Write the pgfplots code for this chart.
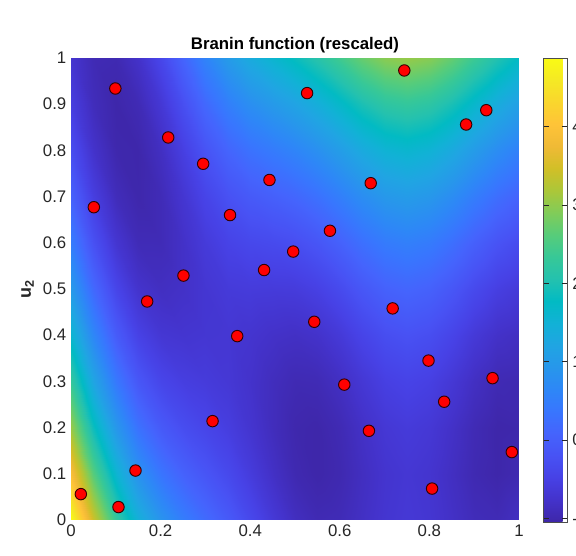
\documentclass[border=0pt]{standalone}
\usepackage{fontspec}
\setmainfont{Liberation Sans}
\usepackage{pgfplots}
\pgfplotsset{compat=1.18}
\pgfplotsset{
  colormap={parula}{
    rgb=(0.2422,0.1504,0.6603) rgb=(0.2647,0.1978,0.7952) rgb=(0.2783,0.2559,0.8991)
    rgb=(0.2810,0.3228,0.9579) rgb=(0.2699,0.3892,0.9906) rgb=(0.2206,0.4603,0.9973)
    rgb=(0.1786,0.5289,0.9682) rgb=(0.1540,0.5902,0.9218) rgb=(0.1248,0.6459,0.8883)
    rgb=(0.0689,0.6948,0.8394) rgb=(0.0067,0.7312,0.7660) rgb=(0.1408,0.7584,0.6842)
    rgb=(0.2161,0.7843,0.5923) rgb=(0.3406,0.8008,0.4789) rgb=(0.5044,0.7993,0.3480)
    rgb=(0.6720,0.7793,0.2227) rgb=(0.8203,0.7498,0.1535) rgb=(0.9393,0.7288,0.2100)
    rgb=(0.9970,0.7659,0.2199) rgb=(0.9786,0.8386,0.1766) rgb=(0.9597,0.9135,0.1423)
    rgb=(0.9769,0.9839,0.0805)}
}
\definecolor{txt}{rgb}{0.15,0.15,0.15}
\begin{document}
\begin{tikzpicture}
\begin{axis}[
  view={0}{90},
  scale only axis,
  width=336pt, height=346.5pt,
  xmin=0, xmax=1, ymin=0, ymax=1,
  xtick={0,0.2,...,1.01}, ytick={0,0.1,...,1.01},
  ztick=\empty,
  axis line style={draw=none},
  major tick length=0pt,
  tick label style={font=\fontsize{12.6}{14}\selectfont, text=txt},
  /pgf/number format/assume math mode=true,
  /pgf/number format/fixed,
  title={\textbf{Branin function (rescaled)}},
  title style={font=\fontsize{12.6}{14}\selectfont, yshift=-6pt},
  ylabel={\textbf{u\textsubscript{2}}},
  ylabel style={font=\fontsize{13.5}{15}\selectfont, text=txt, xshift=0pt},
  colormap name=parula,
  point meta min=-1.0474, point meta max=4.8762,
  colorbar,
  colorbar style={
    at={(parent axis.north east)}, anchor=north west, xshift=10pt,
    width=18pt, height=348pt, scale only axis,
    ytick={-1,0,1,2,3,4},
    yticklabel pos=right,
    major tick length=4pt,
    tick align=inside,
    tick style={draw=txt},
    axis line style={draw=black!70},
    tick label style={font=\fontsize{12.6}{14}\selectfont, text=txt},
    /pgf/number format/assume math mode=true,
  },
]
\addplot3[surf, shader=interp, mesh/cols=21] table[row sep=\\] {
x y z\\
0 0 4.876\\ 0.05 0 3.443\\ 0.1 0 2.295\\ 0.15 0 1.448\\ 0.2 0 0.872\\ 0.25 0 0.487\\ 0.3 0 0.197\\ 0.35 0 -0.078\\ 0.4 0 -0.366\\ 0.45 0 -0.645\\ 0.5 0 -0.857\\ 0.55 0 -0.954\\ 0.6 0 -0.928\\ 0.65 0 -0.820\\ 0.7 0 -0.706\\ 0.75 0 -0.655\\ 0.8 0 -0.696\\ 0.85 0 -0.804\\ 0.9 0 -0.911\\ 0.95 0 -0.940\\ 1 0 -0.844\\
0 0.1 3.927\\ 0.05 0.1 2.614\\ 0.1 0.1 1.578\\ 0.15 0.1 0.836\\ 0.2 0.1 0.355\\ 0.25 0.1 0.058\\ 0.3 0.1 -0.154\\ 0.35 0.1 -0.358\\ 0.4 0.1 -0.585\\ 0.45 0.1 -0.810\\ 0.5 0.1 -0.977\\ 0.55 0.1 -1.037\\ 0.6 0.1 -0.983\\ 0.65 0.1 -0.855\\ 0.7 0.1 -0.729\\ 0.75 0.1 -0.675\\ 0.8 0.1 -0.721\\ 0.85 0.1 -0.843\\ 0.9 0.1 -0.972\\ 0.95 0.1 -1.031\\ 1 0.1 -0.974\\
0 0.2 3.064\\ 0.05 0.2 1.872\\ 0.1 0.2 0.949\\ 0.15 0.2 0.310\\ 0.2 0.2 -0.075\\ 0.25 0.2 -0.286\\ 0.3 0.2 -0.418\\ 0.35 0.2 -0.552\\ 0.4 0.2 -0.717\\ 0.45 0.2 -0.888\\ 0.5 0.2 -1.010\\ 0.55 0.2 -1.034\\ 0.6 0.2 -0.951\\ 0.65 0.2 -0.804\\ 0.7 0.2 -0.666\\ 0.75 0.2 -0.608\\ 0.8 0.2 -0.660\\ 0.85 0.2 -0.796\\ 0.9 0.2 -0.946\\ 0.95 0.2 -1.036\\ 1 0.2 -1.018\\
0 0.3 2.288\\ 0.05 0.3 1.217\\ 0.1 0.3 0.406\\ 0.15 0.3 -0.129\\ 0.2 0.3 -0.419\\ 0.25 0.3 -0.542\\ 0.3 0.3 -0.596\\ 0.35 0.3 -0.660\\ 0.4 0.3 -0.763\\ 0.45 0.3 -0.880\\ 0.5 0.3 -0.957\\ 0.55 0.3 -0.944\\ 0.6 0.3 -0.833\\ 0.65 0.3 -0.665\\ 0.7 0.3 -0.516\\ 0.75 0.3 -0.455\\ 0.8 0.3 -0.512\\ 0.85 0.3 -0.661\\ 0.9 0.3 -0.834\\ 0.95 0.3 -0.954\\ 1 0.3 -0.975\\
0 0.4 1.599\\ 0.05 0.4 0.648\\ 0.1 0.4 -0.051\\ 0.15 0.4 -0.482\\ 0.2 0.4 -0.676\\ 0.25 0.4 -0.712\\ 0.3 0.4 -0.687\\ 0.35 0.4 -0.681\\ 0.4 0.4 -0.722\\ 0.45 0.4 -0.786\\ 0.5 0.4 -0.817\\ 0.55 0.4 -0.767\\ 0.6 0.4 -0.628\\ 0.65 0.4 -0.440\\ 0.7 0.4 -0.280\\ 0.75 0.4 -0.216\\ 0.8 0.4 -0.278\\ 0.85 0.4 -0.440\\ 0.9 0.4 -0.635\\ 0.95 0.4 -0.786\\ 1 0.4 -0.845\\
0 0.5 0.996\\ 0.05 0.5 0.166\\ 0.1 0.5 -0.421\\ 0.15 0.5 -0.748\\ 0.2 0.5 -0.846\\ 0.25 0.5 -0.795\\ 0.3 0.5 -0.692\\ 0.35 0.5 -0.615\\ 0.4 0.5 -0.594\\ 0.45 0.5 -0.604\\ 0.5 0.5 -0.591\\ 0.55 0.5 -0.504\\ 0.6 0.5 -0.336\\ 0.65 0.5 -0.129\\ 0.7 0.5 0.044\\ 0.75 0.5 0.111\\ 0.8 0.5 0.043\\ 0.85 0.5 -0.133\\ 0.9 0.5 -0.350\\ 0.95 0.5 -0.530\\ 1 0.5 -0.628\\
0 0.6 0.480\\ 0.05 0.6 -0.229\\ 0.1 0.6 -0.704\\ 0.15 0.6 -0.927\\ 0.2 0.6 -0.930\\ 0.25 0.6 -0.792\\ 0.3 0.6 -0.610\\ 0.35 0.6 -0.462\\ 0.4 0.6 -0.379\\ 0.45 0.6 -0.336\\ 0.5 0.6 -0.278\\ 0.55 0.6 -0.154\\ 0.6 0.6 0.042\\ 0.65 0.6 0.270\\ 0.7 0.6 0.453\\ 0.75 0.6 0.524\\ 0.8 0.6 0.451\\ 0.85 0.6 0.261\\ 0.9 0.6 0.023\\ 0.95 0.6 -0.189\\ 1 0.6 -0.325\\
0 0.7 0.051\\ 0.05 0.7 -0.538\\ 0.1 0.7 -0.900\\ 0.15 0.7 -1.019\\ 0.2 0.7 -0.927\\ 0.25 0.7 -0.702\\ 0.3 0.7 -0.441\\ 0.35 0.7 -0.223\\ 0.4 0.7 -0.078\\ 0.45 0.7 0.018\\ 0.5 0.7 0.122\\ 0.55 0.7 0.282\\ 0.6 0.7 0.507\\ 0.65 0.7 0.754\\ 0.7 0.7 0.950\\ 0.75 0.7 1.023\\ 0.8 0.7 0.946\\ 0.85 0.7 0.742\\ 0.9 0.7 0.481\\ 0.95 0.7 0.240\\ 1 0.7 0.064\\
0 0.8 -0.292\\ 0.05 0.8 -0.760\\ 0.1 0.8 -1.010\\ 0.15 0.8 -1.025\\ 0.2 0.8 -0.838\\ 0.25 0.8 -0.525\\ 0.3 0.8 -0.186\\ 0.35 0.8 0.103\\ 0.4 0.8 0.309\\ 0.45 0.8 0.459\\ 0.5 0.8 0.609\\ 0.55 0.8 0.805\\ 0.6 0.8 1.059\\ 0.65 0.8 1.326\\ 0.7 0.8 1.533\\ 0.75 0.8 1.610\\ 0.8 0.8 1.527\\ 0.85 0.8 1.309\\ 0.9 0.8 1.027\\ 0.95 0.8 0.755\\ 1 0.8 0.541\\
0 0.9 -0.548\\ 0.05 0.9 -0.896\\ 0.1 0.9 -1.033\\ 0.15 0.9 -0.945\\ 0.2 0.9 -0.662\\ 0.25 0.9 -0.262\\ 0.3 0.9 0.157\\ 0.35 0.9 0.515\\ 0.4 0.9 0.784\\ 0.45 0.9 0.987\\ 0.5 0.9 1.182\\ 0.55 0.9 1.415\\ 0.6 0.9 1.697\\ 0.65 0.9 1.984\\ 0.7 0.9 2.202\\ 0.75 0.9 2.282\\ 0.8 0.9 2.194\\ 0.85 0.9 1.964\\ 0.9 0.9 1.659\\ 0.95 0.9 1.357\\ 1 0.9 1.103\\
0 1 -0.718\\ 0.05 1 -0.945\\ 0.1 1 -0.970\\ 0.15 1 -0.778\\ 0.2 1 -0.399\\ 0.25 1 0.088\\ 0.3 1 0.585\\ 0.35 1 1.014\\ 0.4 1 1.344\\ 0.45 1 1.602\\ 0.5 1 1.841\\ 0.55 1 2.112\\ 0.6 1 2.421\\ 0.65 1 2.728\\ 0.7 1 2.959\\ 0.75 1 3.042\\ 0.8 1 2.948\\ 0.85 1 2.704\\ 0.9 1 2.377\\ 0.95 1 2.045\\ 1 1 1.753\\
};
\addplot3[only marks, mark=*, mark size=4.3pt,
  mark options={fill=red, draw=black!80!red, line width=0.7pt}] coordinates {
(0.744,0.973,5) (0.527,0.924,5) (0.099,0.934,5) (0.217,0.828,5) (0.927,0.887,5)
(0.882,0.856,5) (0.295,0.771,5) (0.051,0.677,5) (0.443,0.736,5) (0.669,0.729,5)
(0.355,0.660,5) (0.578,0.626,5) (0.496,0.581,5) (0.431,0.541,5) (0.251,0.529,5)
(0.170,0.473,5) (0.718,0.458,5) (0.543,0.429,5) (0.371,0.398,5) (0.798,0.345,5)
(0.610,0.293,5) (0.941,0.307,5) (0.833,0.256,5) (0.316,0.214,5) (0.665,0.193,5)
(0.984,0.147,5) (0.144,0.107,5) (0.022,0.056,5) (0.106,0.028,5) (0.806,0.068,5)
};
\coordinate (SW) at (axis cs:0,0,0);
\coordinate (NE) at (axis cs:1,1,0);
\end{axis}
\pgfresetboundingbox
\path[use as bounding box] ([xshift=-53.25pt,yshift=-27pt]SW) rectangle ([xshift=42.75pt,yshift=43.5pt]NE);
\end{tikzpicture}
\end{document}
